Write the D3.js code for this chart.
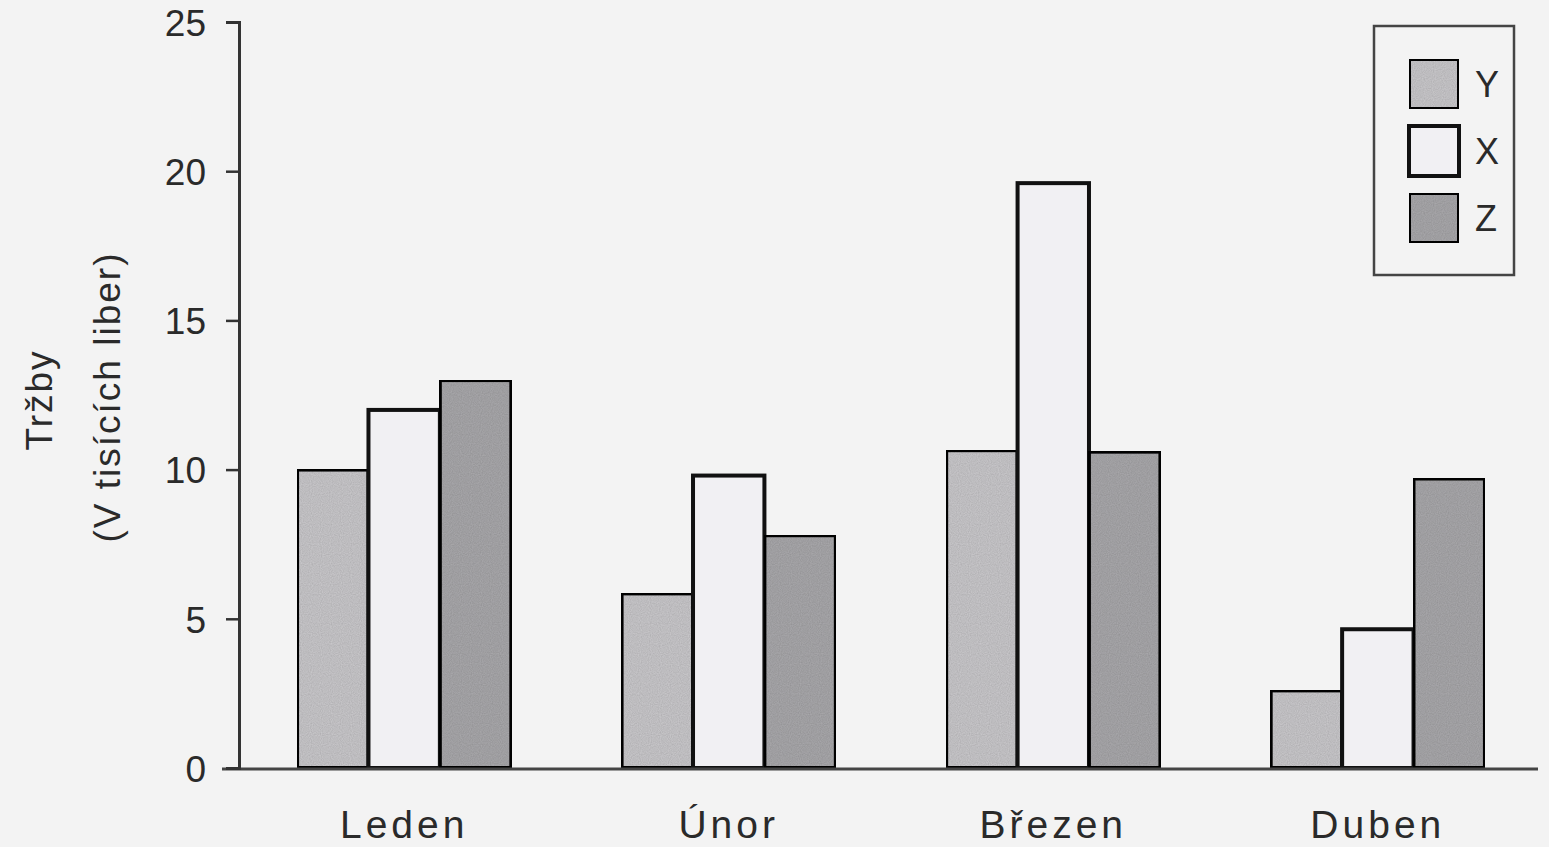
<!DOCTYPE html>
<html><head><meta charset="utf-8">
<script src="https://cdn.jsdelivr.net/npm/d3@7/dist/d3.min.js"></script>
<style>
html,body{margin:0;padding:0;background:#f3f3f3;}
svg{display:block;}
text{font-family:"Liberation Sans","DejaVu Sans",sans-serif;fill:#2a2a2a;}
</style></head>
<body>
<svg id="chart" width="1549" height="847"></svg>
<script>
const categories = ["Leden", "Únor", "Březen", "Duben"];
const seriesNames = ["Y", "X", "Z"];
const valuesY = [10, 5.85, 10.65, 2.6];
const valuesX = [12, 9.8, 19.6, 4.65];
const valuesZ = [13, 7.8, 10.6, 9.7];
const yTicks = [0, 5, 10, 15, 20, 25];
const legendOrder = ["Y", "X", "Z"];
const axisTitle1 = "Tržby";
const axisTitle2 = "(V tisících liber)";

const seriesValues = {Y: valuesY, X: valuesX, Z: valuesZ};
const fills = {Y: "#c9c8cb", X: "#f1f0f3", Z: "#a9a8ab"};

const svg = d3.select("#chart");
svg.append("rect").attr("width",1549).attr("height",847).attr("fill","#f3f3f3");

// speckle texture
const defs = svg.append("defs");
const f = defs.append("filter").attr("id","grain").attr("x",0).attr("y",0).attr("width","100%").attr("height","100%");
f.append("feTurbulence").attr("type","fractalNoise").attr("baseFrequency",0.9).attr("numOctaves",1).attr("result","n");
f.append("feColorMatrix").attr("in","n").attr("type","matrix")
  .attr("values","0 0 0 0 0  0 0 0 0 0  0 0 0 0 0  0 0 0 0.35 -0.05").attr("result","a");
f.append("feComposite").attr("in","a").attr("in2","SourceGraphic").attr("operator","in").attr("result","b");
f.append("feMerge").call(m=>{m.append("feMergeNode").attr("in","SourceGraphic");m.append("feMergeNode").attr("in","b");});

const y = d3.scaleLinear().domain([0, 25]).range([768, 22]);
const x = d3.scaleBand().domain(categories).range([238, 1544]).paddingInner(0.34).paddingOuter(0.182);
const xs = d3.scaleBand().domain(seriesNames).range([0, x.bandwidth()]).padding(0);

// bars
const groups = svg.append("g").selectAll("g").data(categories).join("g")
  .attr("transform", d => `translate(${x(d)},0)`);
groups.selectAll("rect").data((c, i) => seriesNames.map(s => ({s, v: seriesValues[s][i]})))
  .join("rect")
  .attr("x", d => xs(d.s))
  .attr("y", d => y(d.v))
  .attr("width", xs.bandwidth())
  .attr("height", d => y(0) - y(d.v))
  .attr("fill", d => fills[d.s])
  .attr("filter", d => d.s === "X" ? null : "url(#grain)")
  .attr("stroke", "#111")
  .attr("stroke-width", 4);

// baseline
svg.append("line").attr("x1",222).attr("x2",1538).attr("y1",y(0)+1).attr("y2",y(0)+1)
  .attr("stroke","#444").attr("stroke-width",3);

// y axis
const yAxis = d3.axisLeft(y).tickValues(yTicks).tickSize(13).tickPadding(20).tickFormat(d3.format("d"));
const ya = svg.append("g").attr("transform","translate(239,0)").call(yAxis);
ya.select(".domain").attr("stroke","#333").attr("stroke-width",3);
ya.selectAll(".tick line").attr("stroke","#333").attr("stroke-width",2.5);
ya.selectAll(".tick text").attr("font-size",37).attr("fill","#3a3a3a").style("font-family","Liberation Sans, sans-serif").attr("dy","0.36em");

// x labels
svg.append("g").selectAll("text").data(categories).join("text")
  .attr("x", d => x(d) + x.bandwidth()/2)
  .attr("y", 838)
  .attr("text-anchor","middle")
  .attr("font-size",39)
  .attr("letter-spacing",4)
  .text(d => d);

// y titles
svg.append("text").attr("transform","translate(52,400) rotate(-90)")
  .attr("text-anchor","middle").attr("font-size",37).attr("letter-spacing",2).text(axisTitle1);
svg.append("text").attr("transform","translate(120,397) rotate(-90)")
  .attr("text-anchor","middle").attr("font-size",37).attr("letter-spacing",2).text(axisTitle2);

// legend
const lg = svg.append("g");
lg.append("rect").attr("x",1374).attr("y",26).attr("width",140).attr("height",249)
  .attr("fill","#f3f3f3").attr("stroke","#444").attr("stroke-width",2.5);
const ly = d3.scalePoint().domain(legendOrder).range([84, 218]);
const items = lg.selectAll("g.item").data(legendOrder).join("g").attr("class","item")
  .attr("transform", d => `translate(1409,${ly(d)})`);
items.append("rect").attr("x",0).attr("y",-25).attr("width",50).attr("height",50)
  .attr("fill", d => fills[d]).attr("filter", d => d === "X" ? null : "url(#grain)")
  .attr("stroke","#111").attr("stroke-width",4);
items.append("text").attr("x",66).attr("y",0).attr("dy","0.36em").attr("font-size",36).attr("fill","#333").text(d => d);
</script>
</body></html>
